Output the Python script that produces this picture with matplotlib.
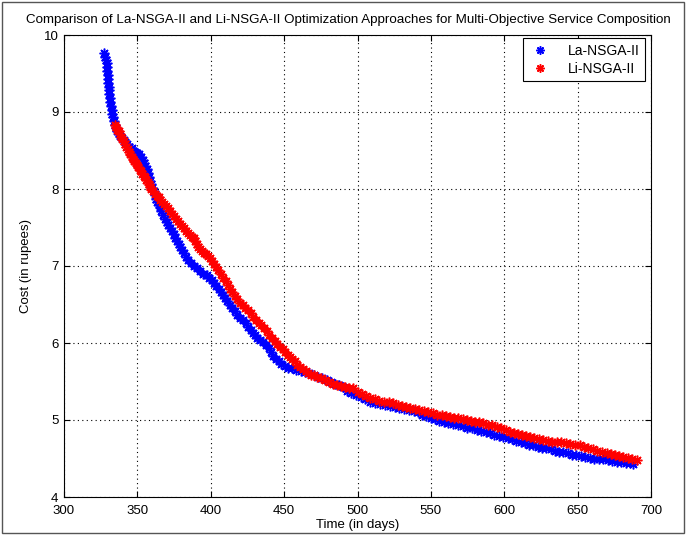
import matplotlib
matplotlib.use("Agg")
import matplotlib.pyplot as plt
from matplotlib.patches import Rectangle

plt.rcParams['font.family'] = ['Liberation Sans', 'DejaVu Sans']

title = "Comparison of La-NSGA-II and Li-NSGA-II Optimization Approaches for Multi-Objective Service Composition"
xlabel = "Time (in days)"
ylabel = "Cost (in rupees)"
series_names = ["La-NSGA-II", "Li-NSGA-II"]
xticks = [300, 350, 400, 450, 500, 550, 600, 650, 700]
yticks = [4, 5, 6, 7, 8, 9, 10]

la_pts = [
    (327.5,9.76),(327.9,9.71),(328.6,9.67),(329.1,9.63),(329.4,9.58),(329.6,9.53),(329.9,9.48),(330.1,9.43),
    (330.2,9.38),(330.4,9.33),(330.7,9.28),(330.9,9.23),(331.1,9.18),(331.4,9.13),(331.9,9.08),(332.4,9.03),
    (332.9,8.98),(333.4,8.93),(333.9,8.88),(334.6,8.83),(335.3,8.79),(336.1,8.75),
    (337.2,8.72),(338.5,8.69),(339.6,8.66),(340.6,8.63),(341.9,8.61),(343.2,8.58),(344.6,8.55),(346.0,8.53),
    (347.3,8.50),(348.6,8.48),(349.9,8.47),(351.2,8.45),(352.5,8.42),(353.6,8.38),(354.5,8.34),(355.4,8.30),
    (356.3,8.26),(357.1,8.21),(357.9,8.16),(358.7,8.11),(359.5,8.06),(360.3,8.01),(361.0,7.97),(361.8,7.92),
    (362.6,7.87),(363.5,7.83),(364.5,7.79),(365.4,7.76),(366.4,7.71),(367.6,7.66),(368.8,7.61),(370.0,7.57),
    (371.2,7.53),(372.4,7.50),(373.6,7.46),(374.7,7.42),(375.8,7.37),(376.9,7.33),(378.1,7.29),(379.3,7.25),
    (380.5,7.21),(381.8,7.17),(383.3,7.12),(384.8,7.08),(386.5,7.04),(388.4,7.00),(390.4,6.97),(392.6,6.93),
    (394.9,6.90),(397.2,6.88),(399.0,6.85),(400.8,6.82),(402.3,6.78),(403.8,6.74),(405.3,6.70),(406.7,6.66),
    (408.2,6.62),(409.6,6.58),(411.2,6.54),(412.8,6.49),(414.5,6.45),(416.3,6.41),(418.2,6.37),(420.2,6.33),
    (422.2,6.30),(424.0,6.26),(425.6,6.21),(427.2,6.17),(428.7,6.13),(430.2,6.10),(431.7,6.07),(433.6,6.04),
    (435.6,6.01),(437.6,5.97),(439.4,5.93),(440.9,5.88),(442.4,5.83),(444.2,5.79),(446.2,5.76),(448.2,5.73),
    (450.4,5.70),(452.9,5.68),(455.6,5.67),(458.4,5.65),(461.2,5.64),(464.1,5.62),(467.2,5.61),(470.1,5.58),
    (473.1,5.56),(476.1,5.54),(479.0,5.52),(481.9,5.50),(484.7,5.47),(487.5,5.45),(490.3,5.43),(493.0,5.38),
    (495.9,5.35),(499.0,5.32),(502.2,5.30),(505.3,5.27),(508.5,5.24),(511.9,5.22),(515.4,5.21),(518.9,5.19),
    (522.1,5.18),(525.3,5.17),(528.6,5.15),(531.9,5.14),(535.1,5.13),(538.2,5.12),(541.2,5.10),(544.1,5.07),
    (547.0,5.05),(549.9,5.03),(552.8,5.01),(555.7,4.99),(558.9,4.98),(562.0,4.96),(565.2,4.95),(568.4,4.93),
    (571.6,4.92),(574.9,4.90),(578.2,4.89),(581.3,4.87),(584.3,4.86),(587.3,4.84),(590.3,4.83),(593.2,4.81),
    (596.1,4.79),(599.2,4.78),(602.3,4.76),(605.3,4.75),(608.2,4.73),(611.1,4.72),(614.0,4.70),(616.9,4.68),
    (619.9,4.67),(622.9,4.65),(625.8,4.64),(628.7,4.63),(631.6,4.62),(634.5,4.60),(637.4,4.59),(640.3,4.58),
    (643.2,4.57),(646.2,4.55),(649.2,4.54),(652.2,4.53),(655.2,4.52),(658.2,4.51),(661.3,4.50),(664.4,4.49),
    (667.6,4.49),(670.7,4.48),(673.7,4.47),(676.6,4.46),(679.6,4.45),(682.7,4.44),(685.5,4.44),(687.9,4.43),
]
la_time = [p[0] for p in la_pts]
la_cost = [p[1] for p in la_pts]

li_pts = [
    (334.6,8.83),(335.5,8.80),(336.4,8.77),(337.3,8.75),(338.2,8.72),(339.0,8.68),(339.8,8.65),(340.7,8.62),
    (341.6,8.59),(342.5,8.55),(343.4,8.52),(344.3,8.48),(345.2,8.45),(346.1,8.42),(347.0,8.39),(347.9,8.37),
    (348.8,8.34),(349.7,8.31),(350.6,8.28),(351.5,8.25),(352.4,8.23),(353.4,8.20),(354.3,8.17),(355.2,8.15),
    (356.1,8.12),(357.0,8.09),(357.8,8.06),(358.6,8.03),(359.6,8.00),(360.8,7.97),(362.0,7.94),(363.2,7.91),
    (364.4,7.89),(365.6,7.86),(366.9,7.83),(368.2,7.81),(369.5,7.78),(370.8,7.75),(372.2,7.72),(373.5,7.68),
    (374.8,7.65),(376.2,7.61),(377.6,7.58),(379.0,7.55),(380.4,7.52),(381.8,7.49),(383.2,7.46),(384.6,7.43),
    (385.9,7.40),(387.1,7.38),(388.3,7.36),(389.3,7.33),(390.4,7.29),(391.6,7.25),(392.8,7.22),(393.8,7.20),
    (395.2,7.17),(396.6,7.15),(398.0,7.13),(399.5,7.10),(400.9,7.07),(402.3,7.03),(403.7,6.99),(405.1,6.95),
    (406.9,6.90),(408.6,6.85),(410.1,6.80),(411.6,6.75),(413.1,6.70),(414.8,6.66),(416.5,6.61),(418.2,6.57),
    (419.9,6.52),(421.7,6.49),(423.6,6.46),(425.4,6.43),(427.2,6.39),(429.0,6.34),(430.8,6.30),(432.6,6.26),
    (434.4,6.23),(436.3,6.19),(438.1,6.15),(439.9,6.11),(441.8,6.07),(443.6,6.03),(445.4,5.99),(447.2,5.95),
    (448.9,5.92),(450.6,5.88),(452.3,5.85),(454.0,5.82),(455.7,5.79),(457.4,5.76),(459.1,5.72),(460.8,5.69),
    (462.7,5.66),(464.6,5.63),(466.5,5.61),(468.4,5.59),(470.3,5.58),(472.2,5.56),(474.9,5.54),(477.6,5.52),
    (480.3,5.49),(483.0,5.47),(485.8,5.45),(488.6,5.44),(491.4,5.43),(494.2,5.42),(497.1,5.41),(500.0,5.37),
    (502.8,5.34),(505.7,5.31),(508.5,5.28),(511.7,5.27),(514.9,5.25),(518.0,5.24),(521.2,5.23),(524.4,5.22),
    (527.3,5.20),(530.2,5.18),(533.0,5.17),(535.8,5.15),(538.9,5.14),(542.1,5.13),(545.2,5.12),(548.3,5.10),
    (551.4,5.09),(554.5,5.07),(557.4,5.06),(560.2,5.05),(563.0,5.04),(565.9,5.03),(568.7,5.02),(571.6,5.01),
    (574.4,5.00),(577.3,4.99),(580.1,4.98),(582.9,4.97),(585.7,4.96),(588.6,4.94),(591.7,4.93),(594.9,4.91),
    (597.9,4.89),(600.9,4.87),(603.9,4.85),(606.6,4.83),(609.3,4.82),(612.0,4.80),(614.8,4.79),(617.5,4.78),
    (620.5,4.77),(623.5,4.75),(626.6,4.74),(629.6,4.73),(632.7,4.72),(635.7,4.72),(638.8,4.71),(641.9,4.70),
    (645.1,4.69),(648.2,4.68),(651.4,4.67),(654.4,4.65),(657.4,4.63),(660.3,4.62),(663.4,4.60),(666.6,4.59),
    (669.8,4.57),(672.6,4.56),(675.4,4.55),(678.2,4.53),(681.2,4.52),(684.2,4.51),(687.2,4.49),(690.3,4.48),
]
li_time = [p[0] for p in li_pts]
li_cost = [p[1] for p in li_pts]

W, H = 692, 535
fig = plt.figure(figsize=(W/100, H/100), dpi=100)
ax = fig.add_axes([64/W, 1-497/H, (651-64)/W, (497-35)/H])

star = (8, 2, 0)
ax.plot(la_time, la_cost, linestyle='none', marker=star, color='#0000ff',
        markersize=7, markeredgewidth=1.1, label=series_names[0])
ax.plot(li_time, li_cost, linestyle='none', marker=star, color='#ff0000',
        markersize=7, markeredgewidth=1.1, label=series_names[1])

ax.set_xlim(300, 700)
ax.set_ylim(4, 10)
ax.set_xticks(xticks)
ax.set_yticks(yticks)
ax.grid(True, color='black', linestyle=(0, (1, 3)), linewidth=0.8)
ax.tick_params(direction='in', top=True, right=True, labelsize=9.5, length=4, width=0.8)
ax.tick_params(axis='x', pad=6)
ax.tick_params(axis='y', pad=4)
for s in ax.spines.values():
    s.set_linewidth(0.8)

ax.set_title(title, fontsize=9.6, pad=9, x=0.485)
ax.set_xlabel(xlabel, fontsize=9.5, labelpad=1)
ax.set_ylabel(ylabel, fontsize=9.5, labelpad=8)

leg = ax.legend(loc='upper right', bbox_to_anchor=(645/W, 1-38/H), bbox_transform=fig.transFigure,
                fancybox=False, edgecolor='black', framealpha=1, fontsize=10,
                handlelength=1.6, borderpad=0.4, labelspacing=0.3, handletextpad=1.2, borderaxespad=0)
leg.get_frame().set_linewidth(0.8)
for h in leg.legend_handles:
    h.set_markersize(6)

fig.patches.append(Rectangle((2/W, 2/H), (684-2)/W, (533-2)/H, transform=fig.transFigure,
                             fill=False, edgecolor='#555555', linewidth=1))

fig.savefig('out.png', dpi=100)
